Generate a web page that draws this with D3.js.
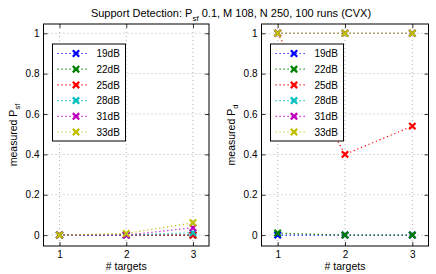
<!DOCTYPE html>
<html><head><meta charset="utf-8">
<script src="https://cdn.jsdelivr.net/npm/d3@7"></script>
<style>
body{margin:0;background:#fff;}
text{font-family:"Liberation Sans",Arial,sans-serif;fill:#000;}
</style></head>
<body>
<svg id="c" width="436" height="274"></svg>
<script>
const targets = [1, 2, 3];
const seriesNames = ["19dB", "22dB", "25dB", "28dB", "31dB", "33dB"];
const seriesColors = ["#0000ff", "#008000", "#ff0000", "#00bfbf", "#bf00bf", "#bfbf00"];
const psfValues = [
  [0, 0, 0],
  [0, 0, 0],
  [0, 0, 0],
  [0, 0, 0.012],
  [0, 0, 0.036],
  [0, 0.008, 0.061]
];
const pdValues = [
  [0, 0, 0],
  [0.01, 0, 0],
  [1, 0.40, 0.54],
  [1, 1, 1],
  [1, 1, 1],
  [1, 1, 1]
];
const xTicks = [1, 2, 3];
const yTicks = [0, 0.2, 0.4, 0.6, 0.8, 1];
const yTickLabels = ["0", "0.2", "0.4", "0.6", "0.8", "1"];

const svg = d3.select("#c");
svg.append("rect").attr("width",436).attr("height",274).attr("fill","#fff");

// title
const t = svg.append("text").attr("x",231).attr("y",17).attr("text-anchor","middle").attr("font-size",11);
t.append("tspan").text("Support Detection: P");
t.append("tspan").attr("dy",4).attr("font-size",8).text("sf");
t.append("tspan").attr("dy",-4).text(" 0.1, M 108, N 250, 100 runs (CVX)");

function panel(x0, x1, values, ylabMain, ylabSub) {
  const top = 24, bottom = 246;
  const x = d3.scaleLinear().domain([0.76, 3.24]).range([x0, x1]);
  const y = d3.scaleLinear().domain([-0.054, 1.046]).range([bottom, top]);
  const g = svg.append("g");
  // grid
  g.selectAll(".gx").data(xTicks).join("line")
    .attr("x1",d=>x(d)).attr("x2",d=>x(d)).attr("y1",top).attr("y2",bottom)
    .attr("stroke","#a0a0a0").attr("stroke-width",0.8).attr("stroke-dasharray","1,3");
  g.selectAll(".gy").data(yTicks).join("line")
    .attr("x1",x0).attr("x2",x1).attr("y1",d=>y(d)).attr("y2",d=>y(d))
    .attr("stroke","#a0a0a0").attr("stroke-width",0.8).attr("stroke-dasharray","1,3");
  // axes
  const ax = d3.axisBottom(x).tickValues(xTicks).tickSize(-4).tickPadding(5).tickFormat(d3.format("d"));
  const axg = g.append("g").attr("transform",`translate(0,${bottom})`).call(ax);
  const axt = g.append("g").attr("transform",`translate(0,${top})`).call(d3.axisTop(x).tickValues(xTicks).tickSize(-4).tickFormat(""));
  const ay = d3.axisLeft(y).tickValues(yTicks).tickSize(-4).tickPadding(4).tickFormat((d,i)=>yTickLabels[i]);
  const ayg = g.append("g").attr("transform",`translate(${x0},0)`).call(ay);
  const ayr = g.append("g").attr("transform",`translate(${x1},0)`).call(d3.axisRight(y).tickValues(yTicks).tickSize(-4).tickFormat(""));
  [axg,axt,ayg,ayr].forEach(a=>{a.select(".domain").remove(); a.selectAll("line").attr("stroke","#000").attr("stroke-width",0.8); a.selectAll("text").attr("font-size",10).attr("font-family","Liberation Sans, Arial, sans-serif");});
  g.append("rect").attr("x",x0).attr("y",top).attr("width",x1-x0).attr("height",bottom-top)
    .attr("fill","none").attr("stroke","#000").attr("stroke-width",1);
  // series
  const line = d3.line().x((d,i)=>x(targets[i])).y(d=>y(d));
  values.forEach((vals,si)=>{
    g.append("path").attr("d",line(vals)).attr("fill","none")
      .attr("stroke",seriesColors[si]).attr("stroke-width",1.2).attr("stroke-dasharray","1.2,2.8");
  });
  values.forEach((vals,si)=>{
    vals.forEach((v,i)=>{
      const cx = x(targets[i]), cy = y(v), r = 3.2;
      g.append("path").attr("d",`M${cx-r},${cy-r}L${cx+r},${cy+r}M${cx-r},${cy+r}L${cx+r},${cy-r}`)
        .attr("stroke",seriesColors[si]).attr("stroke-width",2.2).attr("fill","none");
    });
  });
  // x label
  g.append("text").attr("x",(x0+x1)/2).attr("y",270).attr("text-anchor","middle").attr("font-size",10.5).text("# targets");
  // y label
  const yl = g.append("text").attr("transform",`translate(${x0-27},${(top+bottom)/2}) rotate(-90)`)
    .attr("text-anchor","middle").attr("font-size",10.5);
  yl.append("tspan").text(ylabMain);
  yl.append("tspan").attr("dy",3.5).attr("font-size",7.5).text(ylabSub);
  // legend
  const lx = x0 + 9, ly = 44, lw = 73, lh = 97;
  const lg = g.append("g");
  lg.append("rect").attr("x",lx).attr("y",ly).attr("width",lw).attr("height",lh)
    .attr("fill","#fff").attr("stroke","#000").attr("stroke-width",1);
  seriesNames.forEach((name,si)=>{
    const ry = ly + 9.5 + si*15.7;
    lg.append("line").attr("x1",lx+5).attr("x2",lx+37).attr("y1",ry).attr("y2",ry)
      .attr("stroke",seriesColors[si]).attr("stroke-width",1.2).attr("stroke-dasharray","1.2,2.8");
    const cx = lx+23.5, r=3.2;
    lg.append("path").attr("d",`M${cx-r},${ry-r}L${cx+r},${ry+r}M${cx-r},${ry+r}L${cx+r},${ry-r}`)
      .attr("stroke",seriesColors[si]).attr("stroke-width",2.2);
    lg.append("text").attr("x",lx+44).attr("y",ry+3.8).attr("font-size",10).text(name);
  });
}

panel(43.5, 209, psfValues, "measured P", "sf");
panel(261.5, 428.5, pdValues, "measured P", "d");
</script>
</body></html>
